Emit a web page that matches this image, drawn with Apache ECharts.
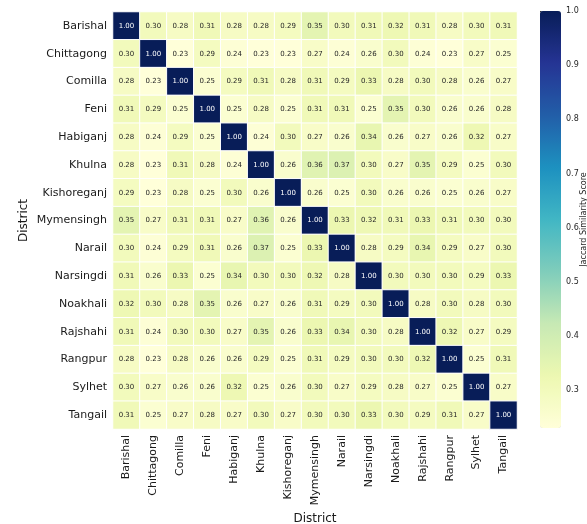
<!DOCTYPE html>
<html>
<head>
<meta charset="utf-8">
<script src="https://cdn.jsdelivr.net/npm/echarts@6/dist/echarts.min.js"></script>
<style>
  html, body { margin: 0; padding: 0; background: #fff; }
  #chart { width: 587px; height: 524px; }
</style>
</head>
<body>
<div id="chart"></div>
<script>
// districts, same order on both axes
const districts = ['Barishal', 'Chittagong', 'Comilla', 'Feni', 'Habiganj', 'Khulna', 'Kishoreganj',
    'Mymensingh', 'Narail', 'Narsingdi', 'Noakhali', 'Rajshahi', 'Rangpur', 'Sylhet', 'Tangail'];

// jaccard scores, one row per district
const rowBarishal    = [1.00, 0.30, 0.28, 0.31, 0.28, 0.28, 0.29, 0.35, 0.30, 0.31, 0.32, 0.31, 0.28, 0.30, 0.31];
const rowChittagong  = [0.30, 1.00, 0.23, 0.29, 0.24, 0.23, 0.23, 0.27, 0.24, 0.26, 0.30, 0.24, 0.23, 0.27, 0.25];
const rowComilla     = [0.28, 0.23, 1.00, 0.25, 0.29, 0.31, 0.28, 0.31, 0.29, 0.33, 0.28, 0.30, 0.28, 0.26, 0.27];
const rowFeni        = [0.31, 0.29, 0.25, 1.00, 0.25, 0.28, 0.25, 0.31, 0.31, 0.25, 0.35, 0.30, 0.26, 0.26, 0.28];
const rowHabiganj    = [0.28, 0.24, 0.29, 0.25, 1.00, 0.24, 0.30, 0.27, 0.26, 0.34, 0.26, 0.27, 0.26, 0.32, 0.27];
const rowKhulna      = [0.28, 0.23, 0.31, 0.28, 0.24, 1.00, 0.26, 0.36, 0.37, 0.30, 0.27, 0.35, 0.29, 0.25, 0.30];
const rowKishoreganj = [0.29, 0.23, 0.28, 0.25, 0.30, 0.26, 1.00, 0.26, 0.25, 0.30, 0.26, 0.26, 0.25, 0.26, 0.27];
const rowMymensingh  = [0.35, 0.27, 0.31, 0.31, 0.27, 0.36, 0.26, 1.00, 0.33, 0.32, 0.31, 0.33, 0.31, 0.30, 0.30];
const rowNarail      = [0.30, 0.24, 0.29, 0.31, 0.26, 0.37, 0.25, 0.33, 1.00, 0.28, 0.29, 0.34, 0.29, 0.27, 0.30];
const rowNarsingdi   = [0.31, 0.26, 0.33, 0.25, 0.34, 0.30, 0.30, 0.32, 0.28, 1.00, 0.30, 0.30, 0.30, 0.29, 0.33];
const rowNoakhali    = [0.32, 0.30, 0.28, 0.35, 0.26, 0.27, 0.26, 0.31, 0.29, 0.30, 1.00, 0.28, 0.30, 0.28, 0.30];
const rowRajshahi    = [0.31, 0.24, 0.30, 0.30, 0.27, 0.35, 0.26, 0.33, 0.34, 0.30, 0.28, 1.00, 0.32, 0.27, 0.29];
const rowRangpur     = [0.28, 0.23, 0.28, 0.26, 0.26, 0.29, 0.25, 0.31, 0.29, 0.30, 0.30, 0.32, 1.00, 0.25, 0.31];
const rowSylhet      = [0.30, 0.27, 0.26, 0.26, 0.32, 0.25, 0.26, 0.30, 0.27, 0.29, 0.28, 0.27, 0.25, 1.00, 0.27];
const rowTangail     = [0.31, 0.25, 0.27, 0.28, 0.27, 0.30, 0.27, 0.30, 0.30, 0.33, 0.30, 0.29, 0.31, 0.27, 1.00];

const matrix = [rowBarishal, rowChittagong, rowComilla, rowFeni, rowHabiganj, rowKhulna, rowKishoreganj,
    rowMymensingh, rowNarail, rowNarsingdi, rowNoakhali, rowRajshahi, rowRangpur, rowSylhet, rowTangail];

// colorbar range and ticks
const scoreMin = 0.23;
const scoreMax = 1.0;
const colorbarTicks = [0.3, 0.4, 0.5, 0.6, 0.7, 0.8, 0.9, 1.0];

// YlGnBu
const palette = ['#ffffd9', '#edf8b1', '#c7e9b4', '#7fcdbb', '#41b6c4', '#1d91c0', '#225ea8', '#253494', '#081d58'];

const FONT = 'DejaVu Sans';

const cells = [];
matrix.forEach(function (row, y) {
    row.forEach(function (v, x) {
        cells.push({
            value: [x, y, v],
            label: { color: v > 0.6 ? '#ffffff' : '#262626' }
        });
    });
});

const chart = echarts.init(document.getElementById('chart'));

const option = {
    backgroundColor: '#ffffff',
    animation: false,
    textStyle: { fontFamily: FONT },
    grid: [
        { left: 113, top: 12, width: 404, height: 417, outerBoundsMode: 'none' },
        // colorbar axis
        { left: 540, top: 11, width: 21, height: 417, outerBoundsMode: 'none' }
    ],
    xAxis: [{
        gridIndex: 0,
        type: 'category',
        data: districts,
        name: 'District',
        nameLocation: 'middle',
        nameGap: 84,
        nameTextStyle: { fontSize: 12, color: '#1a1a1a', fontFamily: FONT },
        axisLine: { show: false },
        axisTick: { show: false },
        axisLabel: { rotate: 90, fontSize: 11, color: '#1a1a1a', margin: 6, interval: 0, fontFamily: FONT },
        splitLine: { show: false }
    }, {
        gridIndex: 1,
        type: 'value',
        show: false
    }],
    yAxis: [{
        gridIndex: 0,
        type: 'category',
        data: districts,
        inverse: true,
        name: 'District',
        nameLocation: 'middle',
        nameGap: 83,
        nameMoveOverlap: false,
        nameRotate: 90,
        nameTextStyle: { fontSize: 12, color: '#1a1a1a', fontFamily: FONT },
        axisLine: { show: false },
        axisTick: { show: false },
        axisLabel: { fontSize: 11, color: '#1a1a1a', margin: 6, interval: 0, fontFamily: FONT },
        splitLine: { show: false }
    }, {
        gridIndex: 1,
        type: 'value',
        min: scoreMin,
        max: scoreMax,
        position: 'right',
        name: 'Jaccard Similarity Score',
        nameLocation: 'middle',
        nameRotate: 90,
        nameGap: 19,
        nameMoveOverlap: false,
        nameTextStyle: { fontSize: 8, color: '#262626', fontFamily: FONT },
        axisLine: { show: false },
        axisTick: { show: true, length: 3, customValues: colorbarTicks, lineStyle: { color: '#262626' } },
        axisLabel: {
            fontSize: 8, color: '#262626', margin: 5, fontFamily: FONT,
            customValues: colorbarTicks,
            formatter: function (v) { return v.toFixed(1); }
        },
        splitLine: { show: false }
    }],
    visualMap: {
        type: 'continuous',
        min: scoreMin,
        max: scoreMax,
        calculable: false,
        showLabel: false,
        text: null,
        orient: 'vertical',
        left: 540,
        top: 11,
        itemWidth: 21,
        itemHeight: 417,
        padding: 0,
        hoverLink: false,
        seriesIndex: 0,
        inRange: { color: palette }
    },
    series: [{
        type: 'heatmap',
        xAxisIndex: 0,
        yAxisIndex: 0,
        data: cells,
        label: {
            show: true,
            fontSize: 7,
            fontFamily: FONT,
            formatter: function (p) { return p.value[2].toFixed(2); }
        },
        itemStyle: { borderColor: '#ffffff', borderWidth: 1 },
        emphasis: { disabled: true }
    }]
};

chart.setOption(option);
</script>
</body>
</html>
